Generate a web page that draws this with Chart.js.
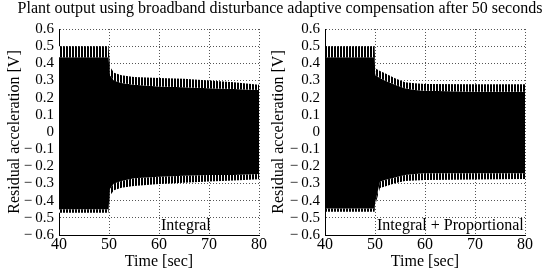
<!DOCTYPE html>
<html>
<head>
<meta charset="utf-8">
<script src="https://cdn.jsdelivr.net/npm/chart.js@4"></script>
<style>
  html, body { margin: 0; padding: 0; background: #fff; }
  #fig { position: relative; width: 547px; height: 272px; overflow: hidden; font-family: 'Liberation Serif', 'Times New Roman', serif; color: #000; }
  canvas { position: absolute; top: 0; }
  .txt { position: absolute; white-space: nowrap; font-size: 16px; line-height: 16px; }
</style>
</head>
<body>
<div id="fig">
  <canvas id="left" width="273" height="272" style="left:0"></canvas>
  <canvas id="right" width="276" height="272" style="left:271px"></canvas>
  <div class="txt" id="title" style="left:0; width:560px; text-align:center; top:0;">Plant output using broadband disturbance adaptive compensation after 50 seconds</div>
  <div class="txt" style="left:161px; top:217px;">Integral</div>
  <div class="txt" style="left:377px; top:217px;">Integral + Proportional</div>
</div>
<script>
// Left panel: Integral (envelope of the oscillation)
const timeL     = [40, 49.9, 50.2, 51, 52.5, 55, 60, 65, 70, 75, 80];
const upOuterL  = [0.50, 0.50, 0.38, 0.345, 0.33, 0.32, 0.315, 0.31, 0.30, 0.29, 0.275];
const upInnerL  = [0.435, 0.435, 0.33, 0.30, 0.285, 0.275, 0.265, 0.26, 0.255, 0.25, 0.245];
const lowInnerL = [-0.45, -0.45, -0.33, -0.30, -0.285, -0.27, -0.26, -0.255, -0.25, -0.25, -0.245];
const lowOuterL = [-0.47, -0.47, -0.37, -0.34, -0.325, -0.314, -0.303, -0.295, -0.289, -0.282, -0.275];

// Right panel: Integral + Proportional
const timeR     = [40, 49.9, 50.1, 51, 52, 54, 56, 58, 60, 70, 80];
const upOuterR  = [0.50, 0.50, 0.37, 0.355, 0.342, 0.313, 0.29, 0.284, 0.28, 0.278, 0.278];
const upInnerR  = [0.435, 0.435, 0.33, 0.315, 0.30, 0.275, 0.255, 0.245, 0.24, 0.235, 0.235];
const lowInnerR = [-0.445, -0.445, -0.40, -0.29, -0.28, -0.265, -0.25, -0.245, -0.24, -0.24, -0.24];
const lowOuterR = [-0.464, -0.464, -0.42, -0.326, -0.318, -0.299, -0.285, -0.282, -0.28, -0.276, -0.274];

// Axis ticks
const xTicks = [40, 50, 60, 70, 80];
const yTicks = [-0.6, -0.5, -0.4, -0.3, -0.2, -0.1, 0, 0.1, 0.2, 0.3, 0.4, 0.5, 0.6];

const FONT = "'Liberation Serif', 'Times New Roman', serif";

// comb-like stripe pattern for the peak bands
function combPattern() {
    const c = document.createElement('canvas');
    c.width = 3; c.height = 1;
    const g = c.getContext('2d');
    g.fillStyle = '#fff'; g.fillRect(0, 0, 3, 1);
    g.fillStyle = '#000'; g.fillRect(0, 0, 2, 1);
    return g.createPattern(c, 'repeat');
}

function pts(t, v) {
    return t.map((x, i) => ({ x: x, y: v[i] }));
}

function yLabel(v) {
    const r = Math.round(v * 10) / 10;
    if (r === 0) return '0';
    return r < 0 ? '\u2212\u2009' + Math.abs(r).toFixed(1) : r.toFixed(1);
}

function makePanel(id, t, upO, upI, loI, loO, yWidth, padRight) {
    const comb = combPattern();
    const base = { pointRadius: 0, borderWidth: 0, tension: 0 };
    new Chart(document.getElementById(id), {
        type: 'line',
        data: {
            datasets: [
                { ...base, data: pts(t, upO), fill: 1, backgroundColor: comb },
                { ...base, data: pts(t, upI), fill: 2, backgroundColor: '#000' },
                { ...base, data: pts(t, loI), fill: 3, backgroundColor: comb },
                { ...base, data: pts(t, loO), fill: false }
            ]
        },
        options: {
            responsive: false,
            devicePixelRatio: 1,
            animation: false,
            layout: { padding: { top: 29, right: padRight, left: 0, bottom: 0 } },
            plugins: { legend: { display: false }, tooltip: { enabled: false } },
            scales: {
                x: {
                    type: 'linear', min: 40, max: 80,
                    afterBuildTicks: s => { s.ticks = xTicks.map(v => ({ value: v })); },
                    afterFit: s => { s.height = 37; },
                    ticks: { color: '#000', font: { family: FONT, size: 16 }, padding: 0, maxRotation: 0, autoSkip: false },
                    grid: { color: ctx => ctx.tick && ctx.tick.value === 40 ? 'rgba(0,0,0,0)' : '#555', drawTicks: false, lineWidth: 1 },
                    border: { display: true, color: '#000', width: 1, dash: [1, 2] },
                    title: { display: true, text: 'Time [sec]', color: '#000', font: { family: FONT, size: 16, lineHeight: 1 }, padding: { top: 0, bottom: 2 } }
                },
                y: {
                    type: 'linear', min: -0.6, max: 0.6,
                    afterBuildTicks: s => { s.ticks = yTicks.map(v => ({ value: v })); },
                    afterFit: s => { s.width = yWidth; },
                    ticks: { color: '#000', font: { family: FONT, size: 15 }, padding: 5, callback: yLabel, autoSkip: false },
                    grid: { color: ctx => ctx.tick && Math.abs(ctx.tick.value + 0.6) < 1e-6 ? 'rgba(0,0,0,0)' : '#555', drawTicks: false, lineWidth: 1 },
                    border: { display: true, color: '#000', width: 1, dash: [1, 2] },
                    title: { display: true, text: 'Residual acceleration [V]', color: '#000', font: { family: FONT, size: 16, lineHeight: 1 }, padding: { top: id === 'left' ? 7 : 0, bottom: 0 } }
                }
            }
        }
    });
}

makePanel('left', timeL, upOuterL, upInnerL, lowInnerL, lowOuterL, 59, 14);
makePanel('right', timeR, upOuterR, upInnerR, lowInnerR, lowOuterR, 54, 22);
</script>
</body>
</html>
